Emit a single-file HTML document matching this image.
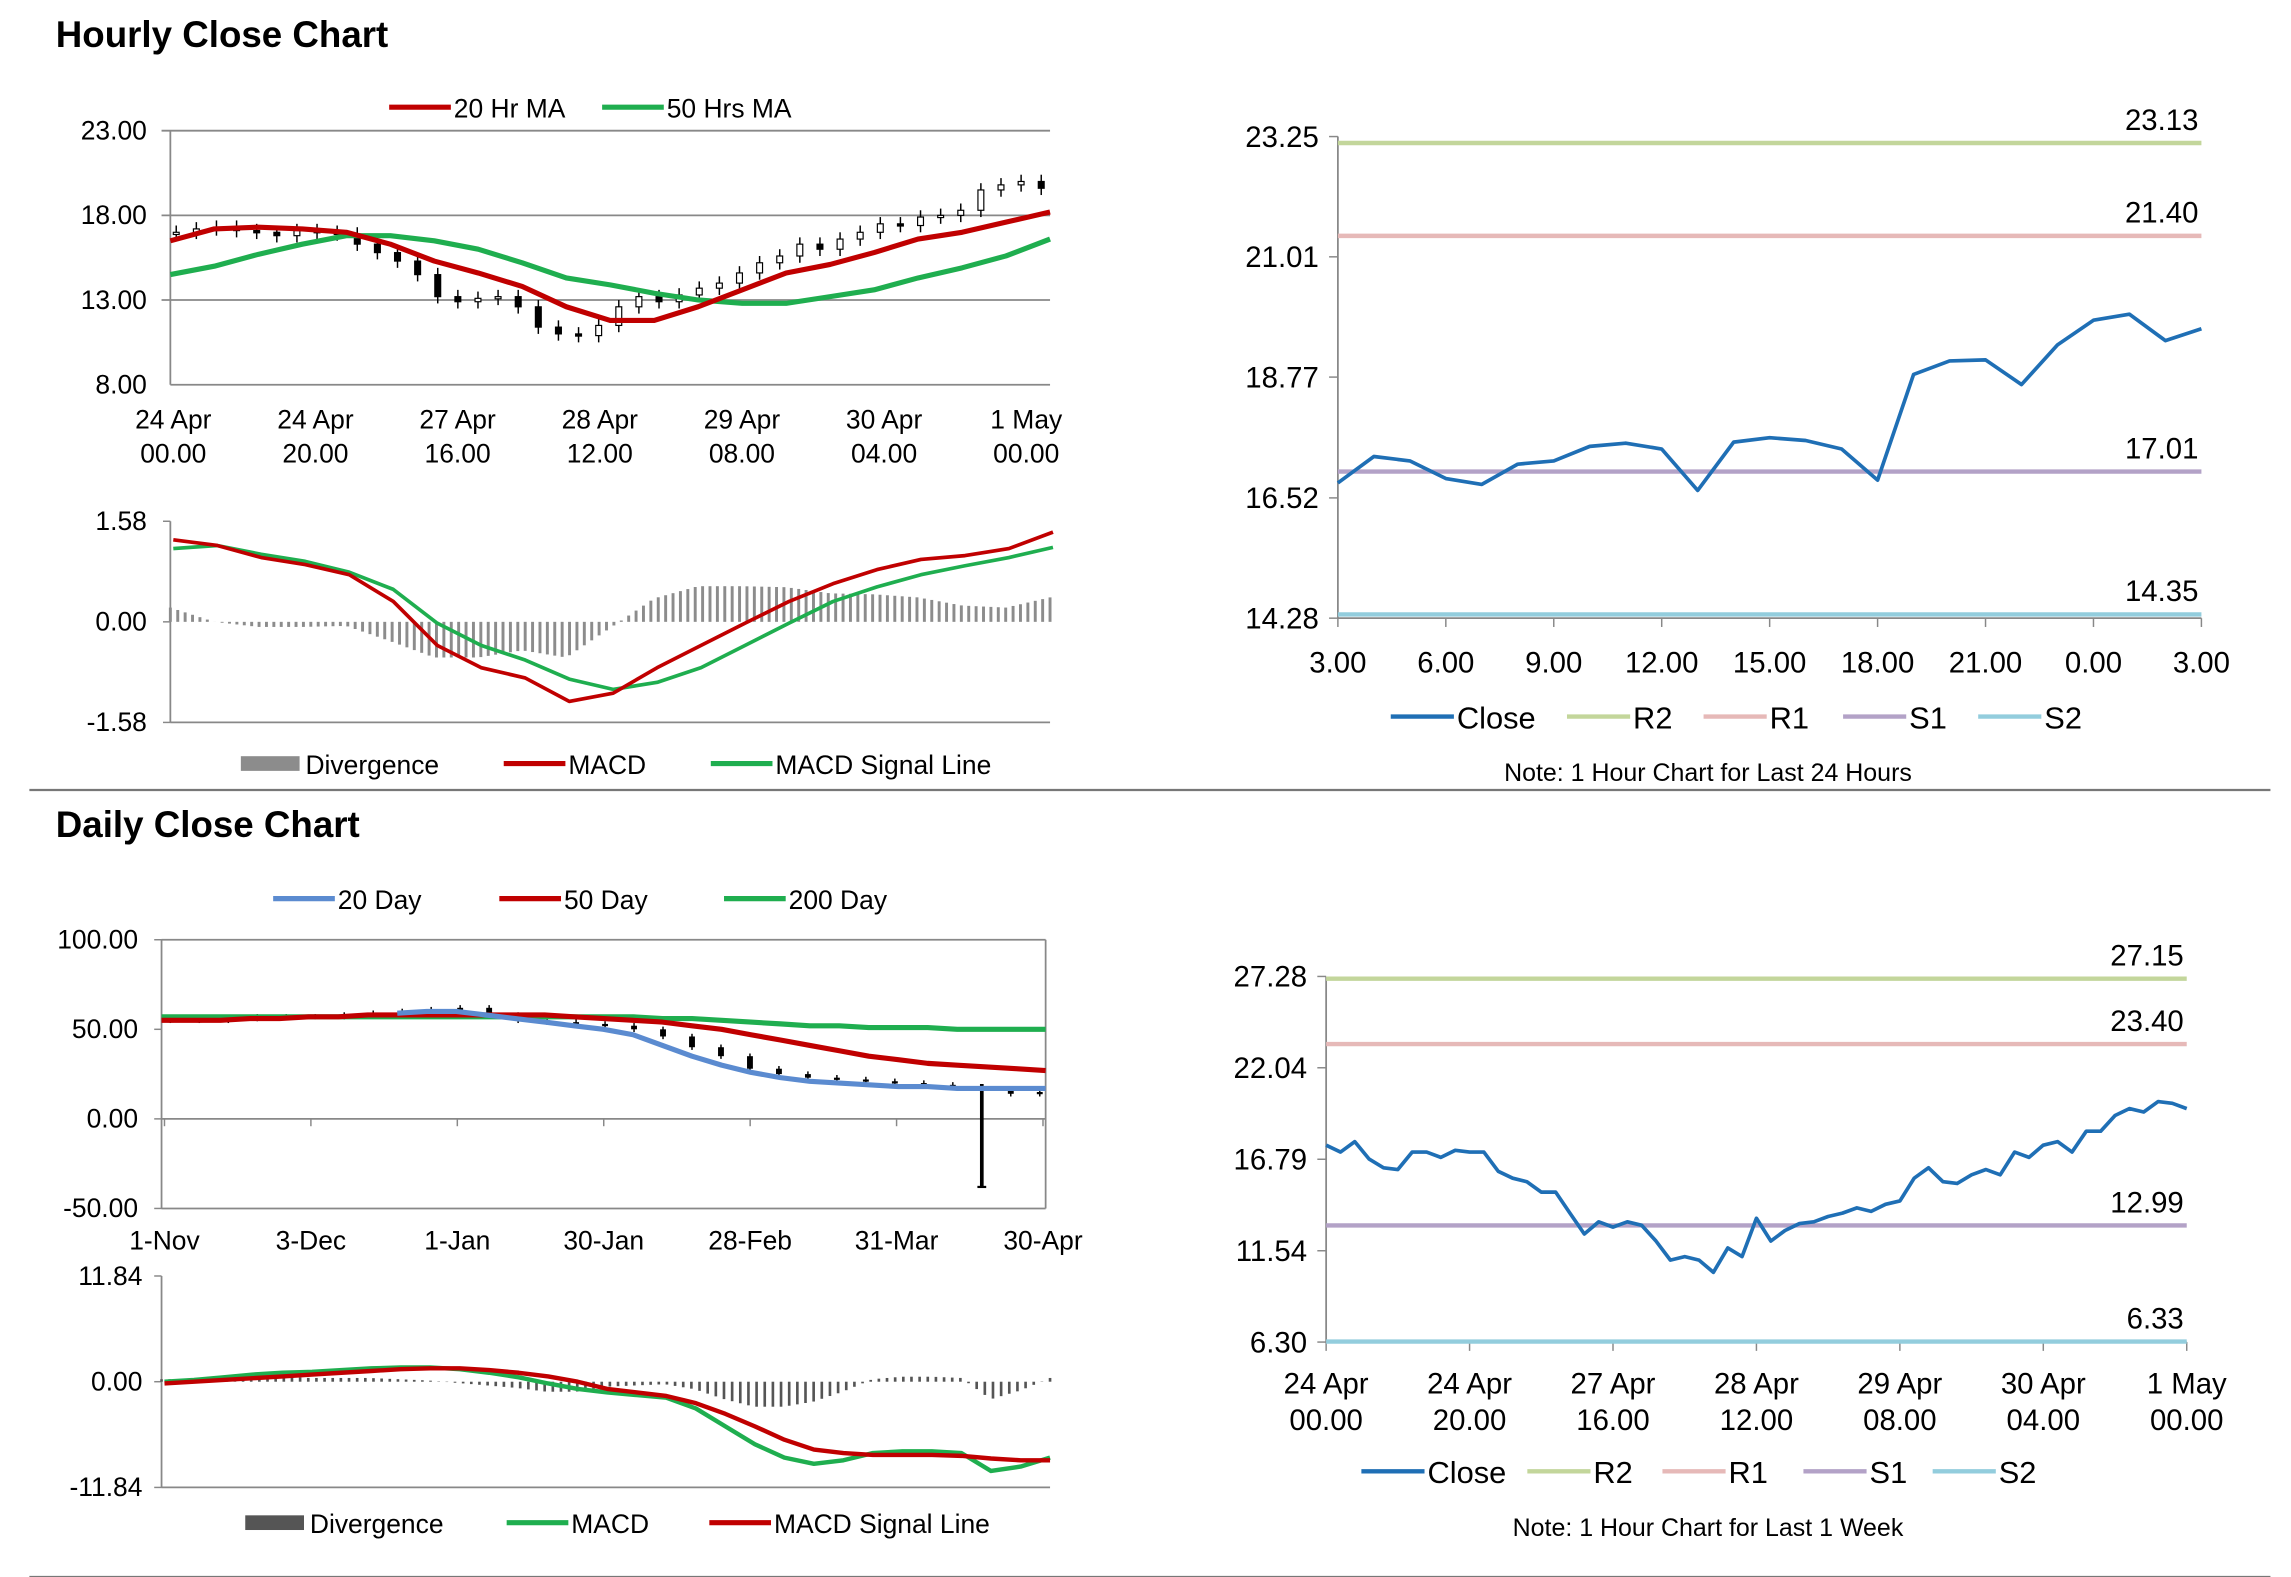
<!DOCTYPE html>
<html><head><meta charset="utf-8"><style>
html,body{margin:0;padding:0;background:#fff}
svg{display:block}
text{font-family:"Liberation Sans",sans-serif;fill:#000}
</style></head><body>
<svg id="s" width="2291" height="1577" viewBox="0 0 1560 1074" preserveAspectRatio="none" xmlns="http://www.w3.org/2000/svg">
<text x="38" y="32" font-size="25" font-weight="bold">Hourly Close Chart</text>
<text x="38" y="570" font-size="25" font-weight="bold">Daily Close Chart</text>
<line x1="20" y1="538" x2="1546" y2="538" stroke="#777" stroke-width="1.5"/>
<line x1="20" y1="1074" x2="1546" y2="1074" stroke="#777" stroke-width="1.5"/>
<g id="g"></g>
</svg>
<script>
// ---- Chart 1: hourly candles + MAs ----
const h1Close=[17.0,17.2,17.3,17.1,17.0,16.8,17.1,17.0,16.9,16.3,15.8,15.3,14.5,13.2,12.9,13.1,13.2,12.6,11.4,11.0,10.9,11.5,12.6,13.2,12.9,13.3,13.7,14.0,14.6,15.2,15.6,16.3,16.0,16.6,17.0,17.5,17.4,17.9,18.0,18.3,19.5,19.8,20.0,19.6];
const h1MA20=[16.5,17.2,17.3,17.2,17.0,16.3,15.3,14.6,13.8,12.6,11.8,11.8,12.6,13.6,14.6,15.1,15.8,16.6,17.0,17.6,18.2];
const h1MA50=[14.5,15.0,15.7,16.3,16.8,16.8,16.5,16.0,15.2,14.3,13.9,13.4,13.0,12.8,12.8,13.2,13.6,14.3,14.9,15.6,16.6];
const h1Ticks=["23.00","18.00","13.00","8.00"];
const h1XLabels=[["24 Apr","00.00"],["24 Apr","20.00"],["27 Apr","16.00"],["28 Apr","12.00"],["29 Apr","08.00"],["30 Apr","04.00"],["1 May","00.00"]];
const m1MACD=[1.29,1.2,1.01,0.9,0.74,0.32,-0.37,-0.72,-0.88,-1.25,-1.12,-0.72,-0.37,-0.02,0.32,0.6,0.82,0.98,1.04,1.15,1.41];
const m1Signal=[1.15,1.2,1.06,0.95,0.78,0.51,-0.02,-0.37,-0.6,-0.9,-1.06,-0.95,-0.72,-0.37,-0.02,0.32,0.55,0.74,0.88,1.01,1.17];
// ---- Chart 2: 24h close with pivots ----
const c2Close=[16.80,17.29,17.21,16.88,16.77,17.15,17.21,17.48,17.54,17.43,16.66,17.56,17.64,17.59,17.43,16.85,18.82,19.07,19.09,18.63,19.37,19.83,19.94,19.45,19.67];
const c2Levels=[23.13,21.40,17.01,14.35];
const c2Ticks=[23.25,21.01,18.77,16.52,14.28];
const c2XLabels=["3.00","6.00","9.00","12.00","15.00","18.00","21.00","0.00","3.00"];
// ---- Chart 3: daily ----
const d3Close=[55,55,56,57,57,57,58,59,60,61,62,58,55,54,53,52,50,46,40,35,28,25,23,22,21,20,19,18,-38,14,15];
const d3MA20=[null,null,null,null,null,null,null,null,59,60,60,58,56,54,52,50,47,41,35,30,26,23,21,20,19,18,18,17,17,17,17];
const d3MA50=[55,55,55,56,56,57,57,58,58,58,58,58,58,58,57,56,55,54,52,50,47,44,41,38,35,33,31,30,29,28,27];
const d3MA200=[57,57,57,57,57,57,57,57,57,57,57,57,57,57,57,57,57,56,56,55,54,53,52,52,51,51,51,50,50,50,50];
const d3Ticks=["100.00","50.00","0.00","-50.00"];
const d3XLabels=["1-Nov","3-Dec","1-Jan","30-Jan","28-Feb","31-Mar","30-Apr"];
const m3MACD=[0,0.2,0.5,0.8,1.0,1.1,1.3,1.5,1.6,1.6,1.4,1.0,0.5,-0.2,-0.8,-1.2,-1.5,-1.8,-3.0,-5.0,-7.0,-8.5,-9.2,-8.8,-8.0,-7.8,-7.8,-8.0,-10.0,-9.5,-8.5];
const m3Signal=[-0.2,0,0.2,0.4,0.6,0.8,1.0,1.2,1.4,1.5,1.5,1.3,1.0,0.6,0.0,-0.8,-1.2,-1.6,-2.4,-3.6,-5.0,-6.5,-7.6,-8.0,-8.2,-8.2,-8.2,-8.3,-8.6,-8.8,-8.8];
// ---- Chart 4: weekly close with pivots ----
const c4Close=[17.6,17.2,17.8,16.8,16.3,16.2,17.2,17.2,16.9,17.3,17.2,17.2,16.1,15.7,15.5,14.9,14.9,13.7,12.5,13.2,12.9,13.2,13.0,12.1,11.0,11.2,11.0,10.3,11.7,11.2,13.4,12.1,12.7,13.1,13.2,13.5,13.7,14.0,13.8,14.2,14.4,15.7,16.3,15.5,15.4,15.9,16.2,15.9,17.2,16.9,17.6,17.8,17.2,18.4,18.4,19.3,19.7,19.5,20.1,20.0,19.7];
const c4Levels=[27.15,23.40,12.99,6.33];
const c4Ticks=[27.28,22.04,16.79,11.54,6.30];
const c4XLabels=[["24 Apr","00.00"],["24 Apr","20.00"],["27 Apr","16.00"],["28 Apr","12.00"],["29 Apr","08.00"],["30 Apr","04.00"],["1 May","00.00"]];

const NS="http://www.w3.org/2000/svg";
const G=document.getElementById('g');
function el(tag,attrs,parent){const e=document.createElementNS(NS,tag);for(const k in attrs)e.setAttribute(k,attrs[k]);(parent||G).appendChild(e);return e;}
function txt(x,y,s,size,anchor){const t=el('text',{x:x,y:y,'font-size':size,'text-anchor':anchor||'start'});t.textContent=s;return t;}
function scale(d0,d1,r0,r1){return v=>r0+(v-d0)/(d1-d0)*(r1-r0);}
function poly(xs,ys,vals,color,w,name){let p='';vals.forEach((v,i)=>{if(v==null)return;p+=(p?'L':'M')+xs(i).toFixed(1)+','+ys(v).toFixed(1);});const e=el('path',{d:p,fill:'none',stroke:color,'stroke-width':w,'stroke-linejoin':'round'});

return e;}
function legend(items,y){items.forEach(it=>{let m;if(it.bar){m=el('rect',{x:it.x,y:y-5,width:40,height:10,fill:it.c});}else{m=el('line',{x1:it.x,y1:y,x2:it.x+42,y2:y,stroke:it.c,'stroke-width':3.5});}


const t=txt(it.x+44,y+7,it.t,18);

});}

// ===== Chart 1 =====
(function(){const L=116,R=715,T=89,B=262;const y=scale(8,23,B,T);
[23,18,13].forEach(v=>{const l=el('line',{x1:L-6,y1:y(v),x2:R,y2:y(v),stroke:'#888','stroke-width':1.2});});
el('line',{x1:L,y1:T,x2:L,y2:B,stroke:'#888','stroke-width':1.2});el('line',{x1:L,y1:B,x2:R,y2:B,stroke:'#888','stroke-width':1.2});
h1Ticks.forEach((s,i)=>{const t=txt(100,y(parseFloat(s))+6,s,18,'end');});
h1XLabels.forEach((s,i)=>{const x=118+i*96.8;txt(x,292,s[0],18,'middle');txt(x,315,s[1],18,'middle');});
const xc=scale(0,h1Close.length-1,L+4,R-6);
h1Close.forEach((c,i)=>{const o=i?h1Close[i-1]:c;const x=xc(i);const hi=Math.max(o,c)+0.4,lo=Math.min(o,c)-0.4;
el('line',{x1:x,y1:y(hi),x2:x,y2:y(lo),stroke:'#000','stroke-width':1});
const r=el('rect',{x:x-2,y:y(Math.max(o,c)),width:4,height:Math.max(1.5,Math.abs(y(o)-y(c))),fill:c>=o?'#fff':'#000',stroke:'#000','stroke-width':0.8});

});
const xm=scale(0,h1MA20.length-1,L,R);
poly(xm,y,h1MA50,'#1fae4f',3.5,'ma-50-line');poly(xm,y,h1MA20,'#c00000',3.5,'ma-20-line');
legend([{x:265,c:'#c00000',t:'20 Hr MA'},{x:410,c:'#1fae4f',t:'50 Hrs MA'}],73);
// MACD 1
const T2=355,B2=492;const ym=scale(-1.58,1.58,B2,T2);
el('line',{x1:L,y1:T2,x2:L,y2:B2,stroke:'#888','stroke-width':1.2});el('line',{x1:L,y1:B2,x2:R,y2:B2,stroke:'#888','stroke-width':1.2});
[["1.58",1.58],["0.00",0],["-1.58",-1.58]].forEach(a=>{txt(100,ym(a[1])+6,a[0],18,'end');el('line',{x1:L-5,y1:ym(a[1]),x2:L,y2:ym(a[1]),stroke:'#888'});});
const nb=120;for(let k=0;k<nb;k++){const f=k/(nb-1)*(m1MACD.length-1);const i=Math.floor(f),fr=f-i;const j=Math.min(i+1,m1MACD.length-1);
const d=(m1MACD[i]*(1-fr)+m1MACD[j]*fr)-(m1Signal[i]*(1-fr)+m1Signal[j]*fr);const x=L+k*(R-L)/(nb-1);
const b=el('line',{x1:x,y1:ym(0),x2:x,y2:ym(d*1.6),stroke:'#8c8c8c','stroke-width':2});

}
const xm2=scale(0,m1MACD.length-1,L+2,R+2);
poly(xm2,ym,m1Signal,'#1fae4f',2.5,'macd-signal-line');poly(xm2,ym,m1MACD,'#c00000',2.5,'macd-line');
legend([{x:164,c:'#8c8c8c',t:'Divergence',bar:1},{x:343,c:'#c00000',t:'MACD'},{x:484,c:'#1fae4f',t:'MACD Signal Line'}],520);
})();

// pivot chart builder
function pivot(L,R,T,B,ticks,levels,close,xl,twoLine,noteY,note,legY,legX,noteX){
const y=scale(ticks[ticks.length-1],ticks[0],B,T);
const cols=['#c3d69b','#e6b9b8','#b3a2c7','#93cddd'];
el('line',{x1:L,y1:T,x2:L,y2:B,stroke:'#888','stroke-width':1.2});el('line',{x1:L,y1:B,x2:R,y2:B,stroke:'#888','stroke-width':1.2});
ticks.forEach(v=>{el('line',{x1:L-6,y1:y(v),x2:L,y2:y(v),stroke:'#888'});const t=txt(L-13,y(v)+7,v.toFixed(2),20,'end');});
xl.forEach((s,i)=>{const x=L+i*(R-L)/(xl.length-1);el('line',{x1:x,y1:B,x2:x,y2:B+6,stroke:'#888'});
if(twoLine){txt(x,B+35,s[0],20,'middle');txt(x,B+60,s[1],20,'middle');}else txt(x,B+37,s,20,'middle');});
levels.forEach((v,i)=>{const l=el('line',{x1:L,y1:y(v),x2:R,y2:y(v),stroke:cols[i],'stroke-width':3});


txt(R-2,y(v)-9,v.toFixed(2),20,'end');});
const x=scale(0,close.length-1,L,R);poly(x,y,close,'#1f6fb5',2.5,'close-line');
const names=['Close','R2','R1','S1','S2'],lc=['#1f6fb5'].concat(cols);
names.forEach((n,i)=>{const lx=legX[i];const m=el('line',{x1:lx,y1:legY,x2:lx+43,y2:legY,stroke:lc[i],'stroke-width':3});const t=txt(lx+45,legY+8,n,21);});
const nt=txt(noteX,noteY,note,17,'middle');
}
pivot(911,1499,93,421,c2Ticks,c2Levels,c2Close,c2XLabels,false,532,'Note: 1 Hour Chart for Last 24 Hours',488,[947,1067,1160,1255,1347],1163);
pivot(903,1489,665,914,c4Ticks,c4Levels,c4Close,c4XLabels,true,1046,'Note: 1 Hour Chart for Last 1 Week',1002,[927,1040,1132,1228,1316],1163);

// ===== Chart 3 =====
(function(){const L=110,R=712,T=640,B=823;const y=scale(-50,100,B,T);
el('line',{x1:L,y1:T,x2:R,y2:T,stroke:'#888','stroke-width':1.2});el('line',{x1:R,y1:T,x2:R,y2:B,stroke:'#888','stroke-width':1.2});
el('line',{x1:L,y1:T,x2:L,y2:B,stroke:'#888','stroke-width':1.2});el('line',{x1:L,y1:B,x2:R,y2:B,stroke:'#888','stroke-width':1.2});
el('line',{x1:L,y1:y(0),x2:R,y2:y(0),stroke:'#888','stroke-width':1.2});
d3Ticks.forEach(s=>{const v=parseFloat(s);el('line',{x1:L-5,y1:y(v),x2:L,y2:y(v),stroke:'#888'});txt(94,y(v)+6,s,18,'end');});
d3XLabels.forEach((s,i)=>{const x=112+i*99.7;el('line',{x1:x,y1:y(0),x2:x,y2:y(0)+5,stroke:'#888'});txt(x,851,s,18,'middle');});
const xc=scale(0,d3Close.length-1,L+6,R-4);
d3Close.forEach((c,i)=>{let o=i?d3Close[i-1]:c;const x=xc(i);const spike=c<0;const cc=spike?16:c;if(o<0)o=16;
const hi=Math.max(o,cc)+1.5,lo=spike?c:Math.min(o,cc)-1.5;
el('line',{x1:x,y1:y(hi),x2:x,y2:y(lo),stroke:'#000','stroke-width':spike?2.5:1});
const r=el('rect',{x:x-2,y:y(Math.max(o,cc)),width:4,height:Math.max(1.5,Math.abs(y(o)-y(cc))),fill:'#000'});


if(spike)el('line',{x1:x-3,y1:y(c),x2:x+3,y2:y(c),stroke:'#000','stroke-width':1.5});});
const xm=scale(0,d3MA50.length-1,L,R);
poly(xm,y,d3MA200,'#1fae4f',3.5,'ma-200-line');poly(xm,y,d3MA50,'#c00000',3.5,'ma-50-day-line');poly(xm,y,d3MA20,'#5b8bd0',3.5,'ma-20-day-line');
legend([{x:186,c:'#5b8bd0',t:'20 Day'},{x:340,c:'#c00000',t:'50 Day'},{x:493,c:'#1fae4f',t:'200 Day'}],612);
// MACD 2
const T2=869,B2=1013;const ym=scale(-11.84,11.84,B2,T2);
el('line',{x1:L,y1:T2,x2:L,y2:B2,stroke:'#888','stroke-width':1.2});el('line',{x1:L,y1:B2,x2:715,y2:B2,stroke:'#888','stroke-width':1.2});
[["11.84",11.84],["0.00",0],["-11.84",-11.84]].forEach(a=>{txt(97,ym(a[1])+6,a[0],18,'end');el('line',{x1:L-5,y1:ym(a[1]),x2:L,y2:ym(a[1]),stroke:'#888'});});
const nb=110;for(let k=0;k<nb;k++){const f=k/(nb-1)*(m3MACD.length-1);const i=Math.floor(f),fr=f-i;const j=Math.min(i+1,m3MACD.length-1);
const d=(m3MACD[i]*(1-fr)+m3MACD[j]*fr)-(m3Signal[i]*(1-fr)+m3Signal[j]*fr);const x=L+k*(715-L)/(nb-1);
const b=el('line',{x1:x,y1:ym(0),x2:x,y2:ym(d*1.4),stroke:'#555','stroke-width':1.8});

}
const xm2=scale(0,m3MACD.length-1,L+2,715);
poly(xm2,ym,m3MACD,'#1fae4f',3,'macd-line');poly(xm2,ym,m3Signal,'#c00000',3,'macd-signal-line');
legend([{x:167,c:'#555',t:'Divergence',bar:1},{x:345,c:'#1fae4f',t:'MACD'},{x:483,c:'#c00000',t:'MACD Signal Line'}],1037);
})();
</script>
</body></html>
